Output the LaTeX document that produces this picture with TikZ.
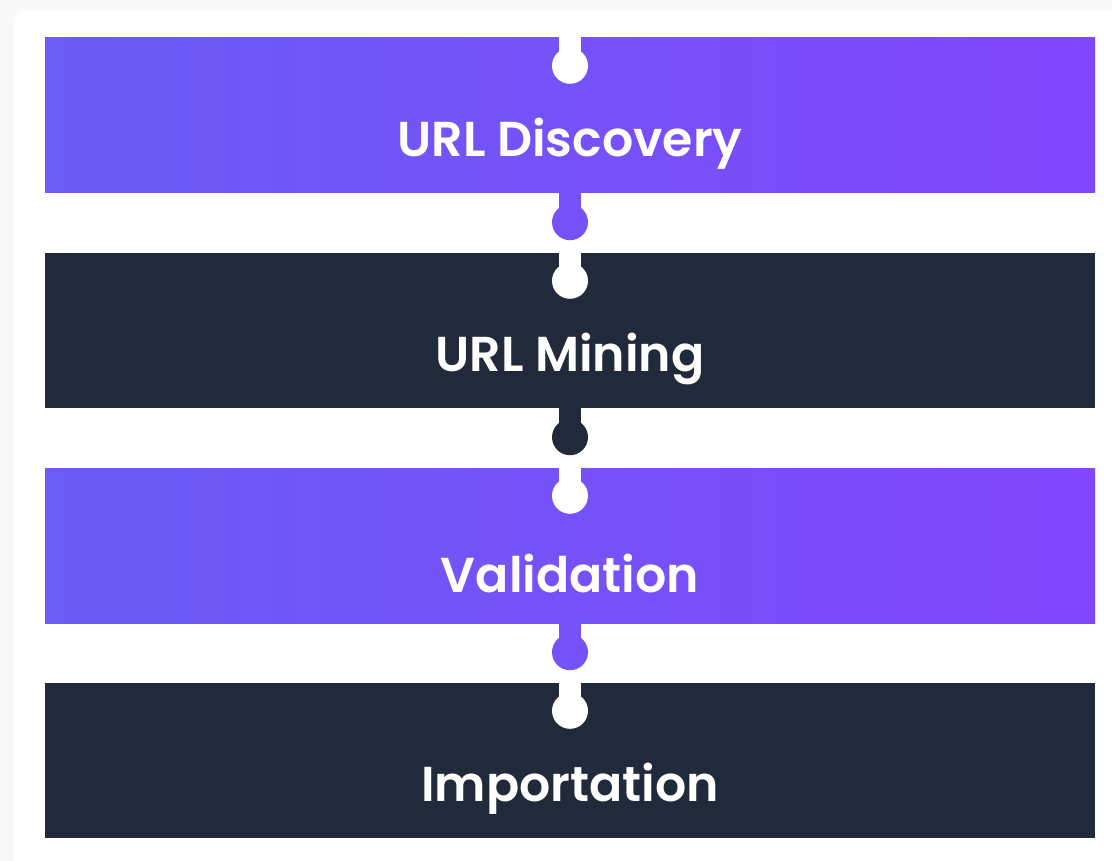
\documentclass[tikz,border=0pt]{standalone}
\usepackage{fontspec}
\newfontfamily\lblfont{Poppins SemiBold}
\usetikzlibrary{calc}
\definecolor{stepleft}{HTML}{6A5CF4}
\definecolor{stepright}{HTML}{8147FC}
\definecolor{stepmid}{HTML}{7452F8}
\definecolor{stepdark}{HTML}{212A3B}
\definecolor{pagebg}{HTML}{F8F8F9}
\tikzset{
  bar/.style={rectangle, inner sep=0pt, minimum width=1050pt, minimum height=155pt},
  purplebar/.style={bar, shading=axis, left color=stepleft, right color=stepright, shading angle=90},
  darkbar/.style={bar, fill=stepdark},
  steplabel/.style={text=white, font=\lblfont\fontsize{49}{54}\selectfont, inner sep=0pt},
}
\begin{document}
\begin{tikzpicture}[x=1pt, y=-1pt]
  \useasboundingbox (0,0) rectangle (1112,861);
  % page and card behind the steps
  \fill[pagebg] (0,0) rectangle (1112,861);
  \fill[black!3, rounded corners=12pt] (10,6) rectangle (1140,890);
  \fill[black!1.5, rounded corners=12pt] (12,8) rectangle (1140,890);
  \fill[white, rounded corners=10pt] (15,10) rectangle (1140,890);

  % the four steps
  \node[purplebar] (b1) at (570,115.5) {};
  \node[darkbar]   (b2) at (570,330.5) {};
  \node[purplebar] (b3) at (570,545.5) {};
  \node[darkbar]   (b4) at (570,760.5) {};

  % labels
  \node[steplabel] (t1) at ($(b1.center)+(0,28)$) {URL Discovery};
  \node[steplabel] (t2) at ($(b2.center)+(0,28)$) {URL Mining};
  \node[steplabel] (t3) at ($(b3.center)+(0,28)$) {Validation};
  \node[steplabel] (t4) at ($(b4.center)+(0,28)$) {Importation};

  % white notches entering each step from the top
  \foreach \b in {b1,b2,b3,b4}{
    \coordinate (\b-in) at ($(\b.north)+(0,28)$);
    \fill[white] ($(\b.north)+(-11,-1)$) rectangle ($(\b-in)+(11,0)$);
    \fill[white] (\b-in) circle[radius=18];
  }
  % coloured tabs leaving each step at the bottom
  \foreach \b/\c in {b1/stepmid,b2/stepdark,b3/stepmid}{
    \coordinate (\b-out) at ($(\b.south)+(0,29)$);
    \fill[\c] ($(\b.south)+(-11,-1)$) rectangle ($(\b-out)+(11,0)$);
    \fill[\c] (\b-out) circle[radius=18];
  }
\end{tikzpicture}
\end{document}
